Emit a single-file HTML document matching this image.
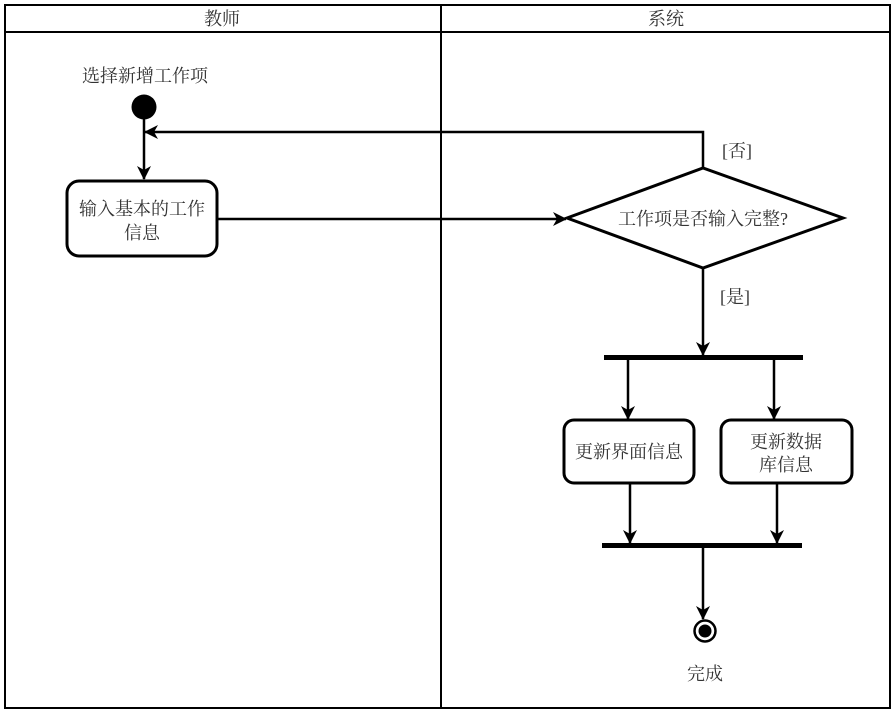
<!DOCTYPE html>
<html><head><meta charset="utf-8"><style>
html,body{margin:0;padding:0;background:#fff;}
svg{display:block;}
text{font-family:"Liberation Serif","Noto Serif CJK SC",serif;font-size:18px;fill:#333;text-anchor:middle;}
</style></head><body>
<svg width="895" height="711" viewBox="0 0 895 711">
<defs><marker id="a" markerWidth="16" markerHeight="16" refX="13" refY="8" orient="auto" markerUnits="userSpaceOnUse"><path d="M0,1 L14,8 L0,15 L4,8 Z" fill="#000"/></marker></defs>
<g stroke="#000" fill="none" stroke-width="2">
<rect x="5" y="5" width="885" height="703"/>
<line x1="5" y1="32" x2="890" y2="32"/>
<line x1="441" y1="5" x2="441" y2="708"/>
</g>
<text x="222" y="25">教师</text>
<text x="666" y="25">系统</text>
<text x="145" y="82">选择新增工作项</text>
<circle cx="144" cy="107" r="12.5" fill="#000"/>
<g stroke="#000" fill="none" stroke-width="2.5">
<line x1="144" y1="119" x2="144" y2="179" marker-end="url(#a)"/>
<polyline points="703,168 703,132 145,132" marker-end="url(#a)"/>
<rect x="67" y="181" width="150" height="75" rx="12" stroke-width="3" fill="#fff"/>
<line x1="217" y1="219" x2="566" y2="219" marker-end="url(#a)"/>
<polygon points="567,218 703,168 843,218 703,268" stroke-width="3" fill="#fff"/>
<line x1="703" y1="268" x2="703" y2="355" marker-end="url(#a)"/>
<line x1="628" y1="358" x2="628" y2="419" marker-end="url(#a)"/>
<line x1="774" y1="358" x2="774" y2="419" marker-end="url(#a)"/>
<rect x="564" y="420" width="130" height="63" rx="10" stroke-width="3" fill="#fff"/>
<rect x="721" y="420" width="131" height="63" rx="10" stroke-width="3" fill="#fff"/>
<line x1="630" y1="483" x2="630" y2="543" marker-end="url(#a)"/>
<line x1="777" y1="483" x2="777" y2="543" marker-end="url(#a)"/>
<line x1="703" y1="546" x2="703" y2="619" marker-end="url(#a)"/>
</g>
<rect x="604" y="355" width="199" height="5" fill="#000"/>
<rect x="602" y="543" width="200" height="5" fill="#000"/>
<circle cx="705" cy="631" r="10.5" fill="#fff" stroke="#000" stroke-width="2.5"/>
<circle cx="705" cy="631" r="6.5" fill="#000"/>
<text x="142" y="215">输入基本的工作</text>
<text x="142" y="239">信息</text>
<text x="737" y="157">[否]</text>
<text x="703" y="225">工作项是否输入完整?</text>
<text x="735" y="303">[是]</text>
<text x="629" y="458">更新界面信息</text>
<text x="786" y="448">更新数据</text>
<text x="786" y="471">库信息</text>
<text x="705" y="680">完成</text>
</svg>
</body></html>
